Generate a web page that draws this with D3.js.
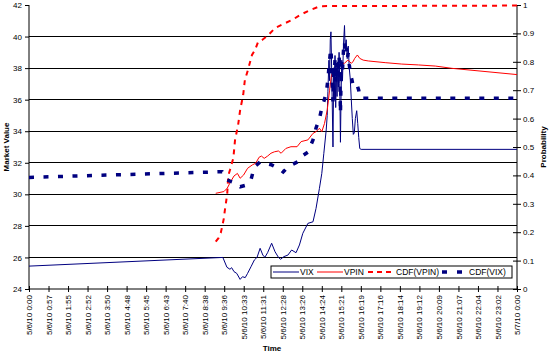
<!DOCTYPE html>
<html>
<head>
<meta charset="utf-8">
<script src="https://cdn.jsdelivr.net/npm/d3@7"></script>
<style>
  html, body { margin: 0; padding: 0; background: #fff; }
  svg { display: block; font-family: "Liberation Sans", Arial, sans-serif; }
</style>
</head>
<body>
<svg id="chart" width="550" height="354"></svg>
<script>
// ---------- DATA ----------
const tickLabels = ["5/6/10 0:00","5/6/10 0:57","5/6/10 1:55","5/6/10 2:52","5/6/10 3:50","5/6/10 4:48",
  "5/6/10 5:45","5/6/10 6:43","5/6/10 7:40","5/6/10 8:38","5/6/10 9:36","5/6/10 10:33","5/6/10 11:31",
  "5/6/10 12:28","5/6/10 13:26","5/6/10 14:24","5/6/10 15:21","5/6/10 16:19","5/6/10 17:16","5/6/10 18:14",
  "5/6/10 19:12","5/6/10 20:09","5/6/10 21:07","5/6/10 22:04","5/6/10 23:02","5/7/10 0:00"];
const leftTicks = [24,26,28,30,32,34,36,38,40,42];
const rightTicks = [0,0.1,0.2,0.3,0.4,0.5,0.6,0.7,0.8,0.9,1];

// VIX (left axis, market value)
const vixTimes = ["0:00","9:32","9:44","9:53","9:58","10:05","10:13","10:23","10:30","10:38","10:45","10:55",
  "11:05","11:13","11:22","11:30","11:36","11:44","11:56","12:06","12:16","12:22","12:32","12:44","12:55",
  "13:08","13:18","13:28","13:43","13:58","14:07","14:17","14:24","14:30","14:37","14:40","14:42","14:45",
  "14:47","14:49","14:51","14:53","14:57","14:59","15:01","15:03","15:05","15:07","15:09","15:11","15:13",
  "15:15","15:17","15:19","15:21","15:23","15:25","15:28","15:31","15:33","15:36","15:39","15:42","15:45",
  "15:48","15:51","15:54","15:57","16:00","16:03","16:07","16:10","16:13","16:16","16:20","24:00"];
const vixValues = [25.45,26.0,25.38,25.25,25.35,25.10,24.99,24.61,24.78,24.72,24.99,25.41,
  25.84,26.01,26.58,26.15,26.01,26.30,26.90,26.36,26.01,25.88,26.05,26.15,26.47,
  26.30,26.79,27.53,28.16,28.26,29.11,30.38,31.33,32.60,34.08,35.0,36.5,38.5,
  37.2,39.8,40.3,38.0,33.0,37.5,36.0,38.8,35.5,37.9,36.2,38.4,36.8,
  39.0,37.0,33.3,36.5,38.5,37.2,39.5,40.7,39.2,39.8,38.6,39.4,38.0,
  37.3,36.0,34.8,33.8,33.9,34.8,35.3,34.5,33.6,32.9,32.85,32.85];

// VPIN (right axis, probability)
const vpinTimes = ["9:11","9:35","9:45","9:55","10:05","10:15","10:23","10:33","10:45","10:59","11:09","11:19",
  "11:26","11:34","11:44","11:54","12:04","12:16","12:24","12:38","12:53","13:11","13:23","13:43","13:58",
  "14:07","14:17","14:24","14:32","14:40","14:47","14:52","14:57","15:02","15:12","15:21","15:31","15:41",
  "15:51","15:56","16:01","16:09","16:16","16:26","16:41","17:31","18:20","19:09","19:59","20:48","24:00"];
const vpinValues = [0.337,0.343,0.355,0.378,0.398,0.407,0.39,0.401,0.425,0.437,0.443,0.464,
  0.468,0.46,0.468,0.478,0.483,0.486,0.478,0.495,0.501,0.501,0.519,0.525,0.548,
  0.554,0.566,0.554,0.583,0.63,0.70,0.748,0.765,0.771,0.783,0.789,0.795,0.806,
  0.795,0.80,0.812,0.824,0.812,0.806,0.803,0.797,0.792,0.789,0.785,0.777,0.755];

// CDF(VPIN) (right axis)
const cdfVpinTimes = ["9:11","9:19","9:26","9:32","9:35","9:38","9:41","9:45","9:48","9:53","10:03","10:08",
  "10:17","10:23","10:32","10:37","10:46","10:58","11:07","11:16","11:28","11:46","12:06","12:30","12:56",
  "13:20","13:49","14:19","24:00"];
const cdfVpinValues = [0.167,0.179,0.198,0.231,0.249,0.278,0.302,0.337,0.40,0.419,0.461,0.525,
  0.577,0.63,0.683,0.736,0.771,0.824,0.842,0.87,0.877,0.894,0.919,0.933,0.947,
  0.965,0.982,0.996,0.998];

// CDF(VIX) (right axis)
const cdfVixTimes = ["0:00","9:30","9:44","9:53","10:05","10:23","10:38","10:55","11:05","11:22","11:36","11:56",
  "12:16","12:30","12:44","12:55","13:18","13:28","13:43","13:58","14:07","14:17","14:24","14:30","14:37",
  "14:42","14:45","14:49","14:51","14:53","14:57","14:59","15:01","15:03","15:05","15:07","15:09","15:11",
  "15:13","15:15","15:17","15:19","15:21","15:23","15:25","15:28","15:31","15:33","15:36","15:39","15:42",
  "15:45","15:48","15:51","15:54","15:57","16:03","16:09","16:13","16:16","16:20","24:00"];
const cdfVixValues = [0.393,0.413,0.385,0.38,0.375,0.36,0.365,0.385,0.43,0.447,0.443,0.437,
  0.425,0.412,0.43,0.437,0.451,0.47,0.482,0.525,0.567,0.60,0.637,0.66,0.69,
  0.736,0.78,0.83,0.845,0.79,0.66,0.78,0.75,0.81,0.73,0.79,0.75,0.80,
  0.76,0.82,0.77,0.62,0.75,0.80,0.77,0.84,0.87,0.83,0.85,0.81,0.83,
  0.79,0.765,0.746,0.73,0.71,0.711,0.715,0.70,0.676,0.672,0.672];

const legendItems = ["VIX","VPIN","CDF(VPIN)","CDF(VIX)"];

// ---------- HELPERS ----------
const toMin = s => { const [h, m] = s.split(":").map(Number); return h * 60 + m; };
const zip = (ts, vs) => ts.map((t, i) => ({ t: toMin(t), v: vs[i] }));

// ---------- LAYOUT ----------
const L = 29, R = 517, T = 5, B = 289;
const svg = d3.select("#chart");
svg.append("rect").attr("width", 550).attr("height", 354).attr("fill", "#fff");

const x = d3.scaleLinear().domain([0, 1440]).range([L, R]);
const yL = d3.scaleLinear().domain([24, 42]).range([B, T]);
const yR = d3.scaleLinear().domain([0, 1]).range([B, T]);

// gridlines
svg.append("g").selectAll("line").data(leftTicks.filter(d => d > 24 && d < 42)).join("line")
  .attr("x1", L).attr("x2", R).attr("y1", d => yL(d)).attr("y2", d => yL(d))
  .attr("stroke", "#000").attr("stroke-width", 1).attr("shape-rendering", "crispEdges");

// left axis
const gL = svg.append("g").attr("transform", `translate(${L},0)`)
  .call(d3.axisLeft(yL).tickValues(leftTicks).tickSize(4).tickPadding(3).tickFormat(d3.format("d")));
gL.selectAll("text").attr("font-size", 8).attr("font-family", "Liberation Sans, Arial");
gL.select(".domain").attr("d", `M0,${T}V${B}`);

// right axis
const gR = svg.append("g").attr("transform", `translate(${R},0)`)
  .call(d3.axisRight(yR).tickValues(rightTicks).tickSize(0).tickPadding(6).tickFormat(d => d3.format("")(+d.toFixed(1))));
gR.selectAll("text").attr("font-size", 8).attr("font-family", "Liberation Sans, Arial");
gR.select(".domain").attr("d", `M0,${T}V${B}`);
gR.selectAll(".tick line").attr("x1", -4).attr("x2", 4);

// bottom axis
const tickPos = tickLabels.map((d, i) => i * 1440 / 25);
const gB = svg.append("g").attr("transform", `translate(0,${B})`)
  .call(d3.axisBottom(x).tickValues(tickPos).tickSize(3).tickFormat((d, i) => tickLabels[i]));
gB.select(".domain").attr("d", `M${L},0H${R}`);
gB.selectAll(".tick line").attr("y1", -3).attr("y2", 3);
gB.selectAll("text").attr("font-size", 8).attr("font-family", "Liberation Sans, Arial")
  .attr("transform", "rotate(-90)").attr("text-anchor", "end")
  .attr("x", -6).attr("y", 0).attr("dy", "0.32em");

svg.selectAll(".domain, .tick line").attr("stroke", "#000");

// axis titles
svg.append("text").attr("transform", "translate(9,147) rotate(-90)").attr("text-anchor", "middle")
  .attr("font-size", 8).attr("font-weight", "bold").text("Market Value");
svg.append("text").attr("transform", "translate(546,147) rotate(-90)").attr("text-anchor", "middle")
  .attr("font-size", 8).attr("font-weight", "bold").text("Probability");
svg.append("text").attr("x", 272).attr("y", 351).attr("text-anchor", "middle")
  .attr("font-size", 8).attr("font-weight", "bold").text("Time");

// ---------- SERIES ----------
const lineL = d3.line().x(d => x(d.t)).y(d => yL(d.v));
const lineR = d3.line().x(d => x(d.t)).y(d => yR(d.v));

svg.append("path").datum(zip(vixTimes, vixValues)).attr("d", lineL)
  .attr("fill", "none").attr("stroke", "#000080").attr("stroke-width", 1);
svg.append("path").datum(zip(vpinTimes, vpinValues)).attr("d", lineR)
  .attr("fill", "none").attr("stroke", "#ff0000").attr("stroke-width", 1);
svg.append("path").datum(zip(cdfVpinTimes, cdfVpinValues)).attr("d", lineR)
  .attr("fill", "none").attr("stroke", "#ff0000").attr("stroke-width", 2).attr("stroke-dasharray", "5,5");
svg.append("path").datum(zip(cdfVixTimes, cdfVixValues)).attr("d", lineR)
  .attr("fill", "none").attr("stroke", "#000080").attr("stroke-width", 3.5).attr("stroke-dasharray", "5,9.5");

// ---------- LEGEND ----------
const lg = svg.append("g");
lg.append("rect").attr("x", 271).attr("y", 266).attr("width", 241).attr("height", 12)
  .attr("fill", "#fff").attr("stroke", "#000").attr("stroke-width", 1);
const legendStyle = [
  { x1: 273, x2: 299, tx: 300, color: "#000080", w: 1, dash: null },
  { x1: 317, x2: 343, tx: 344, color: "#ff0000", w: 1, dash: null },
  { x1: 368, x2: 394, tx: 396, color: "#ff0000", w: 2, dash: "5,4" },
  { x1: 442, x2: 464, tx: 469, color: "#000080", w: 3.5, dash: "5,10" }
];
legendItems.forEach((name, i) => {
  const s = legendStyle[i];
  lg.append("line").attr("x1", s.x1).attr("x2", s.x2).attr("y1", 272).attr("y2", 272)
    .attr("stroke", s.color).attr("stroke-width", s.w).attr("stroke-dasharray", s.dash);
  lg.append("text").attr("x", s.tx).attr("y", 275).attr("font-size", 8.5).text(name);
});
</script>
</body>
</html>
